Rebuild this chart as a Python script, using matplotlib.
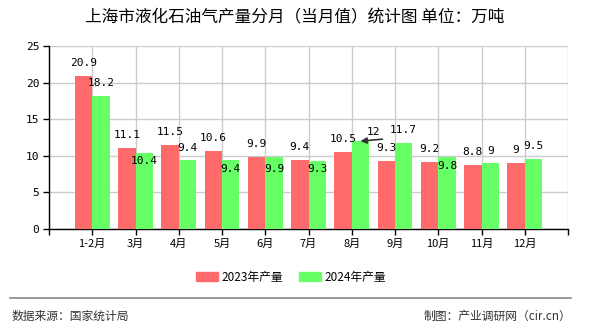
import numpy as np
import matplotlib.pyplot as plt
from matplotlib.lines import Line2D
from matplotlib.patches import Patch

plt.rcParams['font.family'] = ['Noto Sans CJK SC', 'DejaVu Sans']

months = ['1-2月', '3月', '4月', '5月', '6月', '7月', '8月', '9月', '10月', '11月', '12月']
output_2023 = [20.9, 11.1, 11.5, 10.6, 9.9, 9.4, 10.5, 9.3, 9.2, 8.8, 9]
output_2024 = [18.2, 10.4, 9.4, 9.4, 9.9, 9.3, 12, 11.7, 9.8, 9, 9.5]
series_names = ['2023年产量', '2024年产量']

# label placement for the 2024 values: pixels above (+) or into (-) the bar top
green_dy = [13, -8, 12, -9, -12, -8, None, 13, -9, 12, 13]

red = '#ff6a6a'
green = '#66ff66'

fig = plt.figure(figsize=(5.9, 3.3), dpi=100)
ax = fig.add_axes([49 / 590, 101 / 330, 519 / 590, 183 / 330])

x = np.arange(1, len(months) + 1)
w = 0.4
ax.bar(x - w / 2, output_2023, w, color=red, zorder=3)
ax.bar(x + w / 2, output_2024, w, color=green, zorder=3)

lab_font = dict(family='DejaVu Sans Mono', fontsize=8, color='black', zorder=5)
for xi, v in zip(x, output_2023):
    ax.annotate('{:g}'.format(v), (xi - w / 2, v), xytext=(0, 13),
                textcoords='offset pixels', ha='center', va='center', **lab_font)
for xi, v, dy in zip(x, output_2024, green_dy):
    if dy is None:
        # crowded spot: label pushed right with a pointer back to the bar
        ax.annotate('', xy=(xi + w / 2, v), xytext=(22, 2), textcoords='offset pixels',
                    arrowprops=dict(arrowstyle='-|>', color='#333333', lw=1.2,
                                    mutation_scale=9, shrinkA=0, shrinkB=0), zorder=5)
        ax.annotate('{:g}'.format(v), (xi + w / 2, v), xytext=(13, 9),
                    textcoords='offset pixels', ha='center', va='center', **lab_font)
        continue
    ax.annotate('{:g}'.format(v), (xi + w / 2, v), xytext=(0, dy),
                textcoords='offset pixels', ha='center', va='center', **lab_font)

ax.set_xlim(0, 12)
ax.set_ylim(0, 25)
ax.set_xticks(np.arange(0, 13))
ax.set_xticklabels([''] + months + [''])
ax.set_yticks(np.arange(0, 26, 5))
ax.grid(True, color='#cccccc', lw=1, zorder=0)
ax.set_axisbelow(True)
for side in ['top', 'right']:
    ax.spines[side].set_visible(False)
for side in ['left', 'bottom']:
    ax.spines[side].set_color('black')
    ax.spines[side].set_linewidth(1)
ax.tick_params(axis='both', length=4, width=1, color='black', labelsize=8, pad=3)
for lab in ax.get_yticklabels():
    lab.set_family('DejaVu Sans Mono')

fig.text(0.5, 1 - 18 / 330, '上海市液化石油气产量分月（当月值）统计图 单位：万吨',
         ha='center', va='center', fontsize=12, fontweight='medium')

handles = [Patch(color=red), Patch(color=green)]
fig.legend(handles, series_names, loc='center', bbox_to_anchor=(291 / 590, 1 - 277 / 330),
           ncol=2, frameon=False, fontsize=8.5, handlelength=1.9, handleheight=0.8,
           handletextpad=0.3, columnspacing=1.3)

fig.add_artist(Line2D([10 / 590, 571 / 590], [1 - 298 / 330] * 2, color='#888888', lw=1.2))
fig.text(12 / 590, 1 - 316 / 330, '数据来源：国家统计局', ha='left', va='center',
         fontsize=8.5, color='#333333')
fig.text(571 / 590, 1 - 316 / 330, '制图：产业调研网（cir.cn）', ha='right', va='center',
         fontsize=8.5, color='#333333')

fig.savefig('out.png', dpi=100)
